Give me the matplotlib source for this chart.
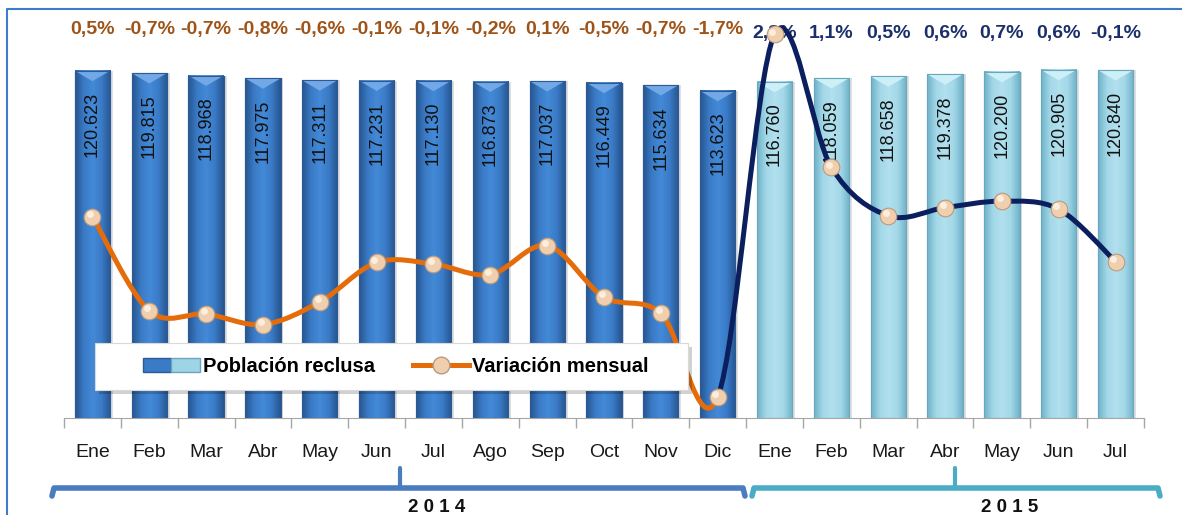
import matplotlib.pyplot as plt
import numpy as np
from matplotlib.path import Path
from matplotlib.patches import PathPatch, Polygon, Rectangle
from matplotlib.lines import Line2D
from matplotlib.colors import LinearSegmentedColormap
from matplotlib.legend_handler import HandlerTuple

# data
meses = ['Ene', 'Feb', 'Mar', 'Abr', 'May', 'Jun', 'Jul', 'Ago', 'Sep', 'Oct', 'Nov', 'Dic',
         'Ene', 'Feb', 'Mar', 'Abr', 'May', 'Jun', 'Jul']
poblacion_2014 = [120623, 119815, 118968, 117975, 117311, 117231, 117130, 116873,
                  117037, 116449, 115634, 113623]
poblacion_2015 = [116760, 118059, 118658, 119378, 120200, 120905, 120840]
variacion_2014 = [0.50, -0.67, -0.71, -0.84, -0.56, -0.07, -0.09, -0.22, 0.14, -0.50, -0.70, -1.74]
variacion_2015 = [2.76, 1.11, 0.51, 0.61, 0.69, 0.59, -0.06]

W, H = 1182, 515
ORANGE = '#E46C0A'
NAVY = '#0B1F5E'
BROWN = '#9E5418'
TXT_NAVY = '#1B2F6A'

plt.rcParams['font.family'] = ['Liberation Sans', 'DejaVu Sans']


def fx(px):
    return px / W


def fy(py):
    return 1 - py / H


def smooth_path(xs, ys, i0, i1):
    # excel-like smoothed line: bezier with catmull-rom control points
    pts = np.column_stack([xs, ys]).astype(float)
    n = len(pts)
    verts = [tuple(pts[i0])]
    codes = [Path.MOVETO]
    for i in range(i0, i1):
        pm = pts[max(i - 1, 0)]
        p0 = pts[i]
        p1 = pts[i + 1]
        pn = pts[min(i + 2, n - 1)]
        c1 = p0 + (p1 - pm) / 6
        c2 = p1 - (pn - p0) / 6
        verts += [tuple(c1), tuple(c2), tuple(p1)]
        codes += [Path.CURVE4] * 3
    return Path(verts, codes)


fig = plt.figure(figsize=(W / 100, H / 100), dpi=100)
ax = fig.add_axes([fx(64), fy(418), (1144 - 64) / W, (418 - 15) / H])

pop = poblacion_2014 + poblacion_2015
var = variacion_2014 + variacion_2015
x = np.arange(len(meses))
n14 = len(poblacion_2014)

cmap14 = LinearSegmentedColormap.from_list('b14', ['#27568F', '#3A7AC6', '#438AD8', '#3A7AC6', '#27568F'])
cmap15 = LinearSegmentedColormap.from_list('b15', ['#6FB2C9', '#A3D8E8', '#B2E0EE', '#A3D8E8', '#6FB2C9'])
grad = np.linspace(0, 1, 64).reshape(1, -1)

bw = 0.62
# soft shadow
ax.bar(x + 0.05, pop, width=bw, color='#000000', alpha=0.12, zorder=1.5)
bars = ax.bar(x, pop, width=bw, color=['#3A7BC8'] * n14 + ['#9DD5E6'] * len(poblacion_2015),
              edgecolor=['#2B5A94'] * n14 + ['#6AA7BC'] * len(poblacion_2015), linewidth=0.8, zorder=2)
for i, b in enumerate(bars):
    x0, x1, h = b.get_x(), b.get_x() + b.get_width(), b.get_height()
    cm = cmap14 if i < n14 else cmap15
    ax.imshow(grad, extent=[x0, x1, 0, h], aspect='auto', cmap=cm, zorder=2.1)
    top = '#73A8E6' if i < n14 else '#CDEFF8'
    ax.add_patch(Polygon([(x0, h), (x1, h), ((x0 + x1) / 2, h - 3600)], closed=True,
                         facecolor=top, edgecolor='none', zorder=2.2))
    ax.add_patch(Rectangle((x0, 0), x1 - x0, h, facecolor='none',
                           edgecolor='#2B5A94' if i < n14 else '#6AA7BC', lw=0.8, zorder=2.3))
    ax.annotate(f"{pop[i]:,}".replace(',', '.'), (x[i], h), xytext=(0, -15),
                textcoords='offset points', rotation=90, ha='center', va='top',
                fontsize=13, color='#111111', zorder=2.5)

ax.set_xlim(-0.5, len(meses) - 0.5)
ax.set_ylim(0, 140000)
ax.set_xticks(x)
ax.set_xticklabels(meses, fontsize=14, family=['Liberation Sans Narrow', 'Liberation Sans'], color='#1A1A1A')
ax.set_xticks(np.arange(-0.5, len(meses)), minor=True)
ax.tick_params(axis='x', which='major', length=0, pad=19)
ax.tick_params(axis='x', which='minor', length=7, color='#A6A6A6', width=1)
ax.set_yticks([])
for s in ['left', 'right', 'top']:
    ax.spines[s].set_visible(False)
ax.spines['bottom'].set_color('#A6A6A6')
ax.spines['bottom'].set_zorder(3)

ax2 = ax.twinx()
ax2.set_ylim(-2, 3)
ax2.set_xlim(-0.5, len(meses) - 0.5)
ax2.axis('off')
ax2.add_patch(PathPatch(smooth_path(x, var, 0, n14 - 1), facecolor='none', edgecolor=ORANGE,
                        lw=3.6, capstyle='round', zorder=3))
ax2.add_patch(PathPatch(smooth_path(x, var, n14 - 1, len(x) - 1), facecolor='none', edgecolor=NAVY,
                        lw=3.6, capstyle='round', zorder=3))
ax2.plot(x, var, 'o', ms=12, mfc='#EFCFAE', mec='#B99B7E', mew=0.8, zorder=4)
ax2.plot(x - 0.04, np.array(var) + 0.035, 'o', ms=5, color='#FFF6EC', alpha=0.8, mew=0, zorder=4.1)

for i, v in enumerate(var):
    lab = f"{v:.1f}%".replace('.', ',')
    ax.text(x[i], 0.963 if i < n14 else 0.955, lab, transform=ax.get_xaxis_transform(),
            ha='center', va='center', fontsize=14, fontweight='bold',
            color=BROWN if i < n14 else TXT_NAVY, zorder=5)

# legend box drawn by hand (white panel with a soft shadow)
fig.add_artist(Rectangle((fx(99), fy(394)), fx(688) - fx(95), fy(343) - fy(390),
                         transform=fig.transFigure, facecolor='#000000', alpha=0.18,
                         edgecolor='none', zorder=4.8))
fig.add_artist(Rectangle((fx(95), fy(390)), fx(688) - fx(95), fy(343) - fy(390),
                         transform=fig.transFigure, facecolor='white',
                         edgecolor='#D9D9D9', lw=0.8, zorder=4.9))
h_bar = (Rectangle((0, 0), 1, 1, facecolor='#3A7BC8', edgecolor='#2B5A94'),
         Rectangle((0, 0), 1, 1, facecolor='#9DD5E6', edgecolor='#6AA7BC'))
h_line = Line2D([], [], color=ORANGE, lw=3.6, marker='o', ms=12, mfc='#EFCFAE', mec='#B99B7E')
leg = fig.legend([h_bar, h_line], ['Población reclusa', 'Variación mensual'], loc='center',
                 bbox_to_anchor=(fx(396), fy(366.5)), ncol=2, frameon=False,
                 prop=dict(weight='bold', size=14.5), handlelength=2.8, columnspacing=1.9,
                 handletextpad=0.15, borderpad=0.2,
                 handler_map={tuple: HandlerTuple(ndivide=None, pad=0)})
leg.set_zorder(5)

# year brackets under the axis
for (xa, xb, xt, col) in [(52, 745, 400, '#4A7DC0'), (752, 1160, 955, '#4BACC6')]:
    fig.add_artist(Line2D([fx(xa), fx(xa + 2), fx(xb - 2), fx(xb)], [fy(496), fy(488), fy(488), fy(496)],
                          color=col, lw=4, solid_capstyle='round', solid_joinstyle='round'))
    fig.add_artist(Line2D([fx(xt), fx(xt)], [fy(488), fy(468)], color=col, lw=3,
                          solid_capstyle='round'))
fig.text(fx(437), fy(507), '2 0 1 4', ha='center', va='center', fontsize=13.5, fontweight='bold', color='#111111')
fig.text(fx(1010), fy(507), '2 0 1 5', ha='center', va='center', fontsize=13.5, fontweight='bold', color='#111111')

# outer frame (left and top)
fig.add_artist(Line2D([fx(6.5), fx(6.5), fx(1182)], [fy(515), fy(9), fy(9)], color='#3D7CC9', lw=1.5))

fig.savefig('out.png', dpi=100)
